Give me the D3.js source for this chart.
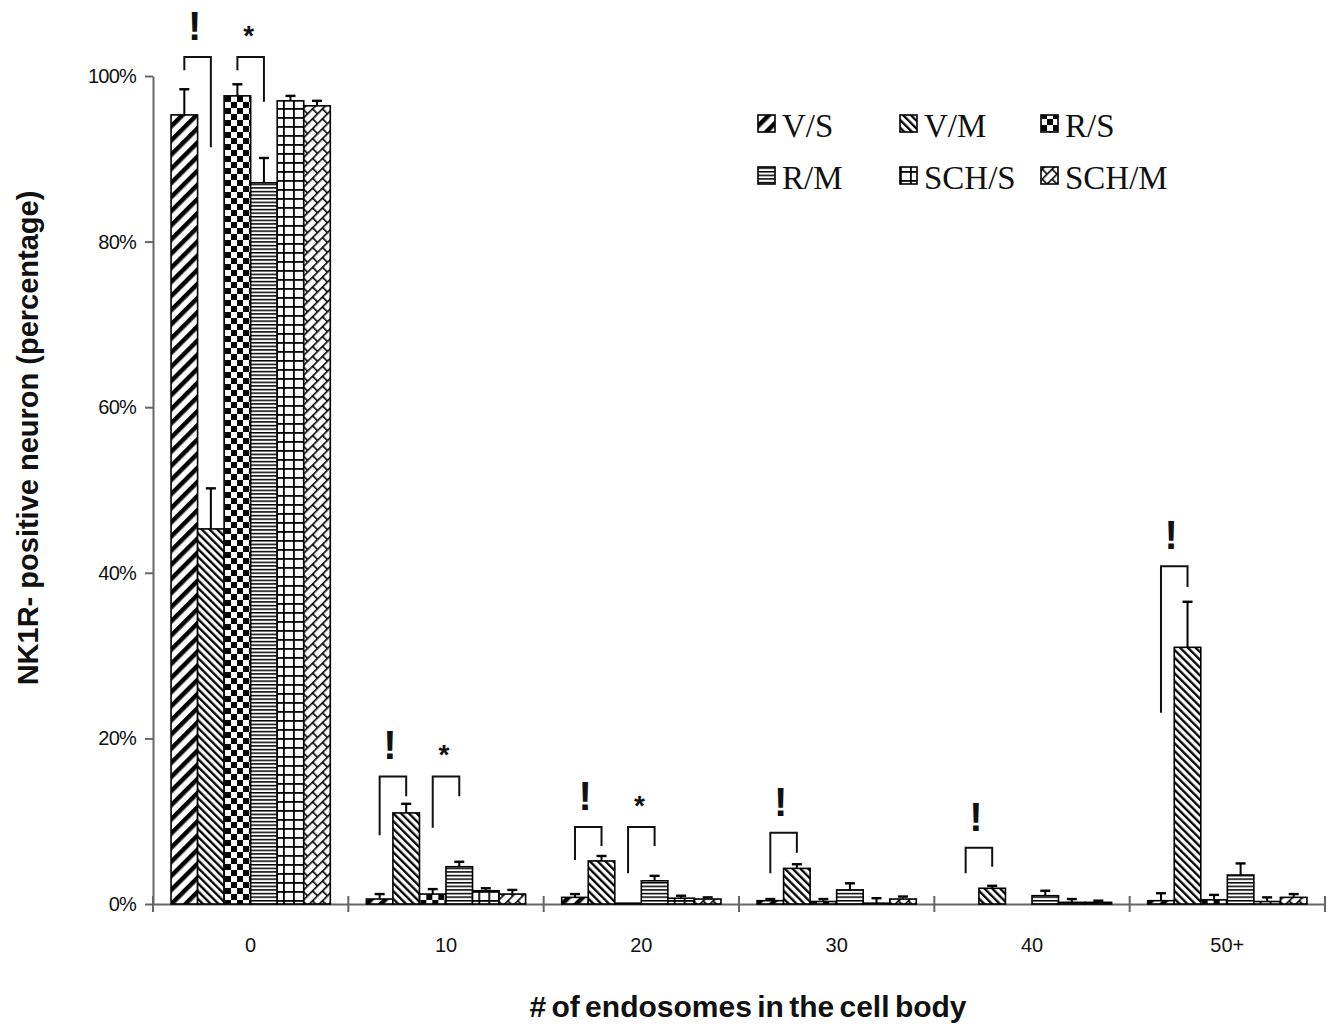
<!DOCTYPE html>
<html>
<head>
<meta charset="utf-8">
<script src="https://cdn.jsdelivr.net/npm/d3@7"></script>
<style>
  body { margin: 0; background: #fff; }
  svg { display: block; }
  text { font-family: "Liberation Sans", Arial, sans-serif; }
</style>
</head>
<body>
<svg id="chart"></svg>
<script>
/* Data */
const categories = ["0", "10", "20", "30", "40", "50+"];
const seriesNames = ["V/S", "V/M", "R/S", "R/M", "SCH/S", "SCH/M"];

const valVS   = [95.3, 0.6, 0.8, 0.4, 0.0, 0.4];
const valVM   = [45.3, 11.0, 5.2, 4.3, 1.9, 31.0];
const valRS   = [97.6, 1.2, 0.1, 0.3, 0.0, 0.5];
const valRM   = [87.1, 4.5, 2.8, 1.7, 1.0, 3.5];
const valSCHS = [97.0, 1.6, 0.7, 0.1, 0.2, 0.3];
const valSCHM = [96.4, 1.2, 0.6, 0.6, 0.2, 0.8];

const errVS   = [3.1, 0.6, 0.4, 0.2, 0.0, 0.9];
const errVM   = [4.9, 1.1, 0.6, 0.5, 0.3, 5.5];
const errRS   = [1.4, 0.6, 0.0, 0.3, 0.0, 0.6];
const errRM   = [3.0, 0.6, 0.6, 0.8, 0.6, 1.4];
const errSCHS = [0.6, 0.3, 0.3, 0.6, 0.4, 0.5];
const errSCHM = [0.6, 0.5, 0.2, 0.3, 0.2, 0.4];

const yTicks = [0, 20, 40, 60, 80, 100];

/* significance brackets: category, pair of series, mark, top (%), left leg end, right leg end */
const bracketCats  = ["0", "0", "10", "10", "20", "20", "30", "40", "50+"];
const bracketLeft  = ["V/S", "R/S", "V/S", "R/S", "V/S", "R/S", "V/S", "V/S", "V/S"];
const bracketRight = ["V/M", "R/M", "V/M", "R/M", "V/M", "R/M", "V/M", "V/M", "V/M"];
const bracketMarks = ["!", "*", "!", "*", "!", "*", "!", "!", "!"];
const bracketTop   = [102.3, 102.3, 15.4, 15.4, 9.3, 9.3, 8.6, 6.8, 40.8];
const bracketLegL  = [100.7, 100.7, 8.3, 9.2, 5.3, 3.7, 3.7, 3.7, 23.1];
const bracketLegR  = [91.4, 96.9, 13.0, 13.0, 7.0, 7.0, 6.2, 4.5, 38.3];

const values = [valVS, valVM, valRS, valRM, valSCHS, valSCHM];
const errors = [errVS, errVM, errRS, errRM, errSCHS, errSCHM];
const patternIds = ["p-vs", "p-vm", "p-rs", "p-rm", "p-schs", "p-schm"];

/* Layout */
const width = 1337, height = 1026;
const svg = d3.select("#chart").attr("width", width).attr("height", height);

const x0 = d3.scaleBand().domain(categories).range([153, 1325]).padding(0);
const x1 = d3.scaleBand().domain(seriesNames).range([0, x0.bandwidth()])
    .paddingInner(0).paddingOuter(0.68);
const y = d3.scaleLinear().domain([0, 100]).range([904, 76]);

/* Patterns */
const defs = svg.append("defs");

function stripePattern(id, size, thick, angle) {
    const p = defs.append("pattern").attr("id", id)
        .attr("patternUnits", "userSpaceOnUse")
        .attr("width", size).attr("height", size)
        .attr("patternTransform", `rotate(${angle})`);
    p.append("rect").attr("width", size).attr("height", size).attr("fill", "#fff");
    p.append("rect").attr("width", thick).attr("height", size).attr("fill", "#000");
}
stripePattern("p-vs", 10, 4.5, 45);
stripePattern("p-vm", 5.5, 2.3, -45);

/* checkerboard */
const pc = defs.append("pattern").attr("id", "p-rs")
    .attr("patternUnits", "userSpaceOnUse").attr("width", 12).attr("height", 12);
pc.append("rect").attr("width", 12).attr("height", 12).attr("fill", "#fff");
pc.append("rect").attr("width", 6).attr("height", 6).attr("fill", "#000");
pc.append("rect").attr("x", 6).attr("y", 6).attr("width", 6).attr("height", 6).attr("fill", "#000");

/* thin horizontal lines */
const ph = defs.append("pattern").attr("id", "p-rm")
    .attr("patternUnits", "userSpaceOnUse").attr("width", 8).attr("height", 3.6);
ph.append("rect").attr("width", 8).attr("height", 3.6).attr("fill", "#fff");
ph.append("rect").attr("width", 8).attr("height", 1.5).attr("fill", "#000");

/* large grid */
const pg = defs.append("pattern").attr("id", "p-schs")
    .attr("patternUnits", "userSpaceOnUse").attr("width", 10).attr("height", 9);
pg.append("rect").attr("width", 10).attr("height", 9).attr("fill", "#fff");
pg.append("rect").attr("width", 10).attr("height", 1.8).attr("fill", "#000");
pg.append("rect").attr("width", 1.8).attr("height", 9).attr("fill", "#000");

/* diagonal brick */
const pb = defs.append("pattern").attr("id", "p-schm")
    .attr("patternUnits", "userSpaceOnUse").attr("width", 14).attr("height", 14)
    .attr("patternTransform", "rotate(-45)");
pb.append("rect").attr("width", 14).attr("height", 14).attr("fill", "#fff");
pb.append("rect").attr("width", 14).attr("height", 1.6).attr("fill", "#000");
pb.append("rect").attr("y", 7).attr("width", 14).attr("height", 1.6).attr("fill", "#000");
pb.append("rect").attr("width", 1.6).attr("height", 7).attr("fill", "#000");
pb.append("rect").attr("x", 7).attr("y", 7).attr("width", 1.6).attr("height", 7).attr("fill", "#000");

/* Axes */
const yAxis = svg.append("g")
    .attr("transform", "translate(153,0)")
    .call(d3.axisLeft(y).tickValues(yTicks).tickFormat(d => d + "%")
        .tickSize(8).tickPadding(9).tickSizeOuter(0));
yAxis.selectAll("path, line").attr("stroke", "#666").attr("stroke-width", 2);
yAxis.selectAll("text").attr("font-size", 20).attr("fill", "#111")
    .style("letter-spacing", "-0.8px");

const xAxis = svg.append("g")
    .attr("transform", "translate(0,904)")
    .call(d3.axisBottom(x0).tickSize(0).tickPadding(34).tickSizeOuter(0));
xAxis.select("path").attr("stroke", "#666").attr("stroke-width", 2);
xAxis.selectAll("text").attr("font-size", 20).attr("fill", "#111");

/* category boundary ticks crossing the axis */
const bounds = categories.map(c => x0(c)).concat([x0.range()[1]]);
svg.append("g").selectAll("line")
    .data(bounds)
    .join("line")
    .attr("x1", d => d).attr("x2", d => d)
    .attr("y1", 896).attr("y2", 912)
    .attr("stroke", "#666").attr("stroke-width", 2);

/* Bars */
const groups = svg.append("g").selectAll("g")
    .data(categories)
    .join("g")
    .attr("transform", c => `translate(${x0(c)},0)`);

const cell = (c, ci) => seriesNames.map((s, si) => ({
    s: s, si: si, v: values[si][ci], e: errors[si][ci]
}));

groups.selectAll("rect")
    .data((c, ci) => cell(c, ci))
    .join("rect")
    .attr("x", d => x1(d.s))
    .attr("y", d => y(d.v))
    .attr("width", x1.bandwidth())
    .attr("height", d => y(0) - y(d.v))
    .attr("fill", d => `url(#${patternIds[d.si]})`)
    .attr("stroke", "#000")
    .attr("stroke-width", 1.6);

/* Error bars (upper only) */
const errG = groups.selectAll("g.err")
    .data((c, ci) => cell(c, ci).filter(d => d.e > 0))
    .join("g").attr("class", "err");
errG.append("line")
    .attr("x1", d => x1(d.s) + x1.bandwidth() / 2)
    .attr("x2", d => x1(d.s) + x1.bandwidth() / 2)
    .attr("y1", d => y(d.v))
    .attr("y2", d => y(d.v + d.e))
    .attr("stroke", "#000").attr("stroke-width", 2);
errG.append("line")
    .attr("x1", d => x1(d.s) + x1.bandwidth() / 2 - 5)
    .attr("x2", d => x1(d.s) + x1.bandwidth() / 2 + 5)
    .attr("y1", d => y(d.v + d.e))
    .attr("y2", d => y(d.v + d.e))
    .attr("stroke", "#000").attr("stroke-width", 2.4);

/* Significance brackets */
const brackets = bracketCats.map((c, i) => ({
    xl: x0(c) + x1(bracketLeft[i]) + x1.bandwidth() / 2,
    xr: x0(c) + x1(bracketRight[i]) + x1.bandwidth() / 2,
    top: bracketTop[i], legL: bracketLegL[i], legR: bracketLegR[i],
    mark: bracketMarks[i]
}));

svg.append("g").selectAll("path")
    .data(brackets)
    .join("path")
    .attr("d", d => `M${d.xl},${y(d.legL)}V${y(d.top)}H${d.xr}V${y(d.legR)}`)
    .attr("fill", "none")
    .attr("stroke", "#111")
    .attr("stroke-width", 2);

svg.append("g").selectAll("text")
    .data(brackets)
    .join("text")
    .attr("x", d => (d.xl + d.xr) / 2 - (d.mark === "!" ? 3 : 2))
    .attr("y", d => y(d.top) - (d.mark === "!" ? 17 : 12))
    .attr("text-anchor", "middle")
    .attr("font-weight", "bold")
    .attr("font-size", d => d.mark === "!" ? 40 : 28)
    .attr("fill", "#111")
    .text(d => d.mark);

/* Legend */
const legendX = [758, 900, 1041];
const legendY = [137, 189];
const legend = svg.append("g").selectAll("g")
    .data(seriesNames)
    .join("g")
    .attr("transform", (s, i) => `translate(${legendX[i % 3]},${legendY[Math.floor(i / 3)]})`);
legend.append("rect")
    .attr("x", 0).attr("y", -22)
    .attr("width", 17).attr("height", 17)
    .attr("fill", (s, i) => `url(#${patternIds[i]})`)
    .attr("stroke", "#000").attr("stroke-width", 1.6);
legend.append("text")
    .attr("x", 24).attr("y", 0)
    .style("font-family", "'Liberation Serif', 'DejaVu Serif', serif")
    .attr("font-size", 33)
    .attr("fill", "#111")
    .text(s => s);

/* Axis titles */
svg.append("text")
    .attr("transform", "translate(38,438) rotate(-90)")
    .attr("text-anchor", "middle")
    .attr("font-weight", "bold")
    .attr("font-size", 29)
    .attr("fill", "#111")
    .text("NK1R- positive neuron (percentage)");

svg.append("text")
    .attr("x", 748).attr("y", 1017)
    .attr("text-anchor", "middle")
    .attr("font-weight", "bold")
    .attr("font-size", 30)
    .attr("fill", "#111")
    .style("word-spacing", "-3px")
    .text("# of endosomes in the cell body");
</script>
</body>
</html>
